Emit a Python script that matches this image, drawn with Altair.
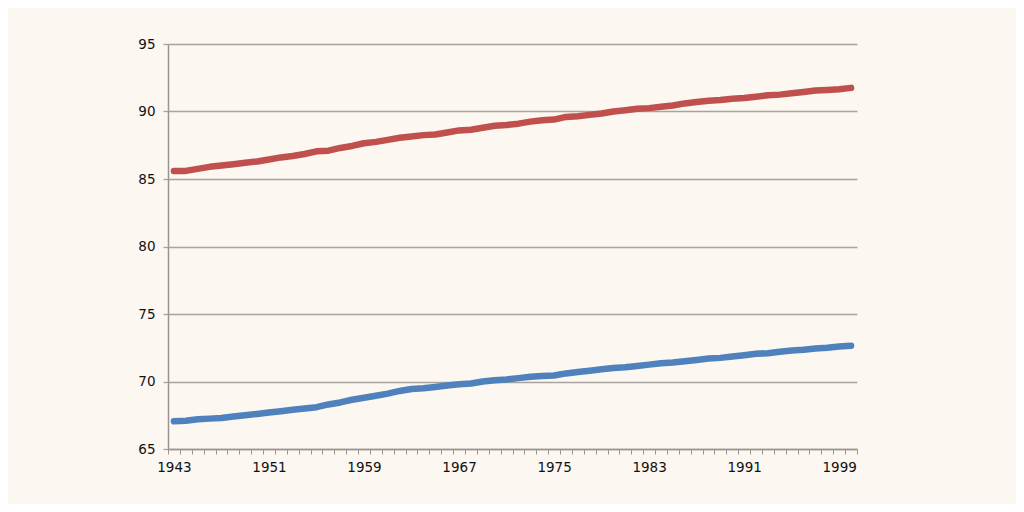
import altair as alt
import pandas as pd

years = list(range(1943, 2001))
red_values = [85.6, 85.6, 85.75, 85.9, 86.0, 86.1, 86.2, 86.3, 86.45, 86.6,
              86.7, 86.85, 87.05, 87.1, 87.3, 87.45, 87.65, 87.75, 87.9, 88.05,
              88.15, 88.25, 88.3, 88.45, 88.6, 88.65, 88.8, 88.95, 89.0, 89.1,
              89.25, 89.35, 89.4, 89.6, 89.65, 89.75, 89.85, 90.0, 90.1, 90.2,
              90.25, 90.35, 90.45, 90.6, 90.7, 90.8, 90.85, 90.95, 91.0, 91.1,
              91.2, 91.25, 91.35, 91.45, 91.55, 91.6, 91.65, 91.75]
blue_values = [67.05, 67.1, 67.2, 67.25, 67.3, 67.4, 67.5, 67.6, 67.7, 67.8,
               67.9, 68.0, 68.1, 68.3, 68.45, 68.65, 68.8, 68.95, 69.1, 69.3,
               69.45, 69.5, 69.6, 69.7, 69.8, 69.85, 70.0, 70.1, 70.15, 70.25,
               70.35, 70.4, 70.45, 70.6, 70.7, 70.8, 70.9, 71.0, 71.05, 71.15,
               71.25, 71.35, 71.4, 71.5, 71.6, 71.7, 71.75, 71.85, 71.95, 72.05,
               72.1, 72.2, 72.3, 72.35, 72.45, 72.5, 72.6, 72.65]
series_names = ["Red", "Blue"]
series_colors = ["#c0504d", "#4f81bd"]
label_years = ["1943", "1951", "1959", "1967", "1975", "1983", "1991", "1999"]
y_ticks = [65, 70, 75, 80, 85, 90, 95]

rows = []
for name, vals in zip(series_names, [red_values, blue_values]):
    for yr, v in zip(years, vals):
        rows.append({"year": yr, "value": v, "series": name})
df = pd.DataFrame(rows)

x_min = years[0] - 0.5
x_max = years[-1] + 0.5
boundaries = [x_min + i for i in range(len(years) + 1)]
label_set = ",".join(label_years)

chart = alt.Chart(df).mark_line(strokeWidth=6.5, strokeCap="round", strokeJoin="round").encode(
    x=alt.X("year:Q",
            scale=alt.Scale(domain=[x_min, x_max], nice=False, zero=False),
            axis=alt.Axis(values=boundaries, title=None, grid=False,
                          labelExpr="indexof([" + label_set + "], datum.value + 0.5) >= 0 ? toString(datum.value + 0.5) : ''",
                          labelOverlap=False, labelOffset=5.94, labelPadding=6,
                          labelFontSize=13.5, labelFont="DejaVu Sans", labelColor="#111111",
                          tickSize=5, tickColor="#9a9590", tickWidth=1,
                          domainColor="#9a9590", domainWidth=1.5, labelFlush=False)),
    y=alt.Y("value:Q",
            scale=alt.Scale(domain=[65, 95], nice=False, zero=False),
            axis=alt.Axis(values=y_ticks, title=None, grid=True, gridColor="#a8a39e", gridWidth=1.3,
                          labelFontSize=13.5, labelFont="DejaVu Sans", labelColor="#111111",
                          labelPadding=8, tickSize=5, tickColor="#a8a39e", tickWidth=1.3,
                          domainColor="#9a9590", domainWidth=1.5)),
    color=alt.Color("series:N", scale=alt.Scale(domain=series_names, range=series_colors), legend=None),
    detail="series:N",
).properties(
    width=689, height=405,
    background="#fcf7f1",
    padding={"left": 160, "top": 36, "right": 159, "bottom": 55},
    autosize=alt.AutoSizeParams(type="none"),
).configure_view(stroke=None)

chart.save("out.html", embed_options={"renderer": "svg", "actions": False})
